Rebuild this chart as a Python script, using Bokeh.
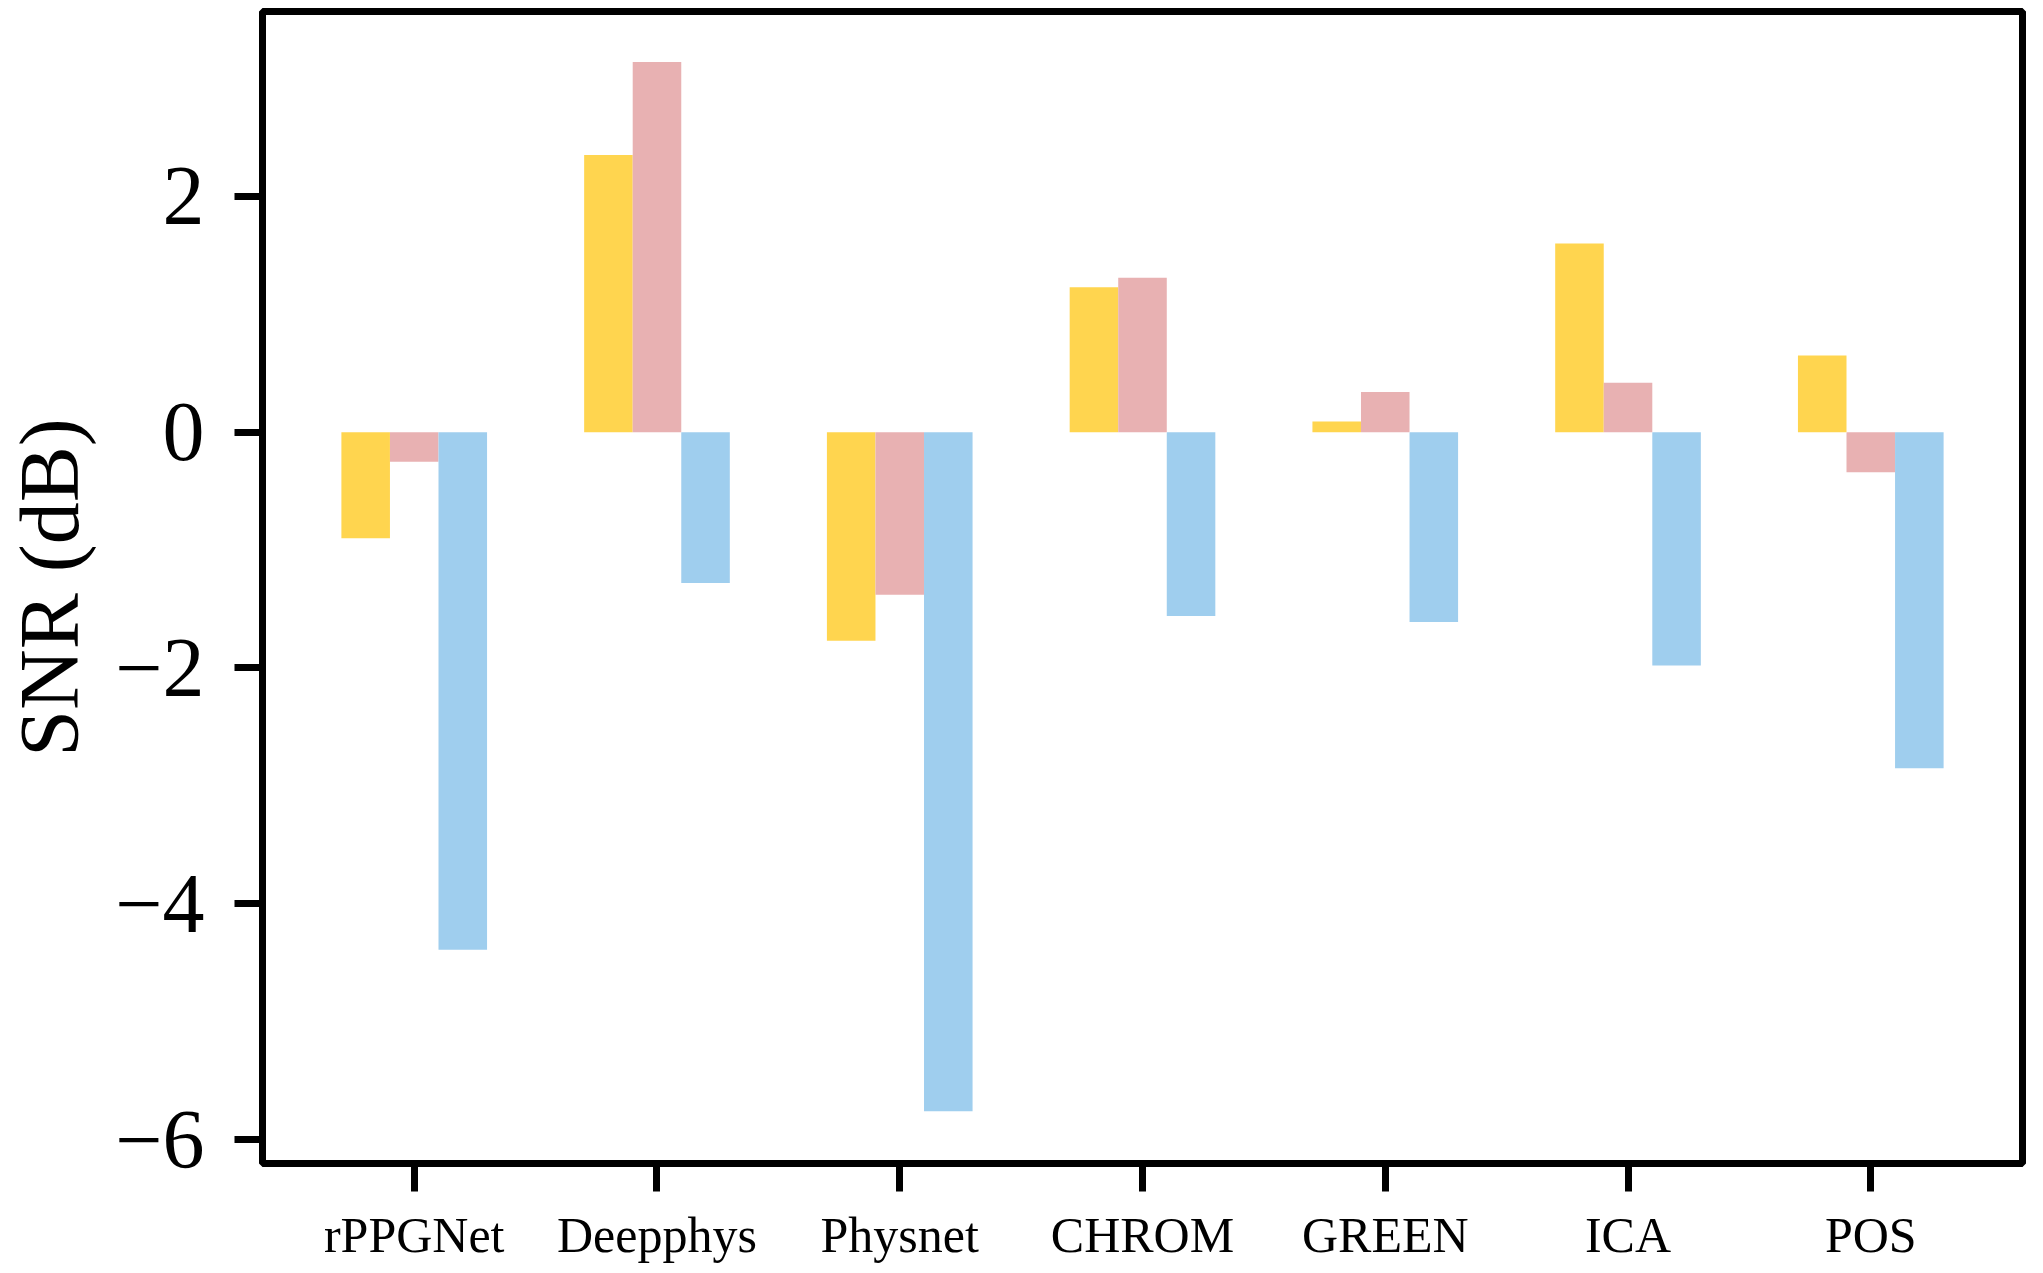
from bokeh.plotting import figure
from bokeh.models import ColumnDataSource, FixedTicker, Range1d
from bokeh.transform import dodge
from bokeh.embed import file_html
from bokeh.resources import INLINE

methods = ["rPPGNet", "Deepphys", "Physnet", "CHROM", "GREEN", "ICA", "POS"]
snr_yellow = [-0.90, 2.35, -1.77, 1.23, 0.09, 1.60, 0.65]
snr_pink = [-0.25, 3.14, -1.38, 1.31, 0.34, 0.42, -0.34]
snr_blue = [-4.39, -1.28, -5.76, -1.56, -1.61, -1.98, -2.85]
y_ticks = [-6, -4, -2, 0, 2]
y_title = "SNR (dB)"

colors = ["#FFD54F", "#E8B1B2", "#9FCEEE"]

src = ColumnDataSource(dict(
    idx=list(range(len(methods))),
    yellow=snr_yellow,
    pink=snr_pink,
    blue=snr_blue,
))

p = figure(width=2027, height=1265, output_backend="svg", toolbar_location=None,
           x_range=Range1d(-0.625, 6.625), y_range=Range1d(-6.203, 3.568),
           min_border_left=255, min_border_right=5, min_border_top=11, min_border_bottom=101)

for col, off, c in zip(["yellow", "pink", "blue"], [-0.2, 0.0, 0.2], colors):
    p.vbar(x=dodge("idx", off, range=p.x_range), top=col, bottom=0, width=0.2,
           source=src, fill_color=c, line_color=None)

p.xgrid.visible = False
p.ygrid.visible = False
p.background_fill_color = "white"
p.border_fill_color = "white"
p.outline_line_color = "black"
p.outline_line_width = 7
p.outline_line_alpha = 1.0

font = "Liberation Serif"

xa = p.xaxis[0]
xa.ticker = FixedTicker(ticks=list(range(len(methods))))
xa.major_label_overrides = {i: m for i, m in enumerate(methods)}
xa.minor_tick_line_color = None
xa.axis_line_color = None
xa.major_tick_in = 0
xa.major_tick_out = 28
xa.major_tick_line_width = 7
xa.major_tick_line_color = "black"
xa.major_label_text_font = font
xa.major_label_text_font_size = "50px"
xa.major_label_text_color = "black"
xa.major_label_standoff = 15

ya = p.yaxis[0]
ya.ticker = FixedTicker(ticks=y_ticks)
ya.major_label_overrides = {t: (str(t).replace("-", "\u2212")) for t in y_ticks}
ya.minor_tick_line_color = None
ya.axis_line_color = None
ya.major_tick_in = 0
ya.major_tick_out = 28
ya.major_tick_line_width = 7
ya.major_tick_line_color = "black"
ya.major_label_text_font = font
ya.major_label_text_font_size = "84px"
ya.major_label_text_color = "black"
ya.major_label_standoff = 30
ya.axis_label = y_title
ya.axis_label_text_font = font
ya.axis_label_text_font_size = "84px"
ya.axis_label_text_font_style = "normal"
ya.axis_label_text_color = "black"
ya.axis_label_standoff = 16

open("out.html", "w").write(file_html(p, INLINE))
